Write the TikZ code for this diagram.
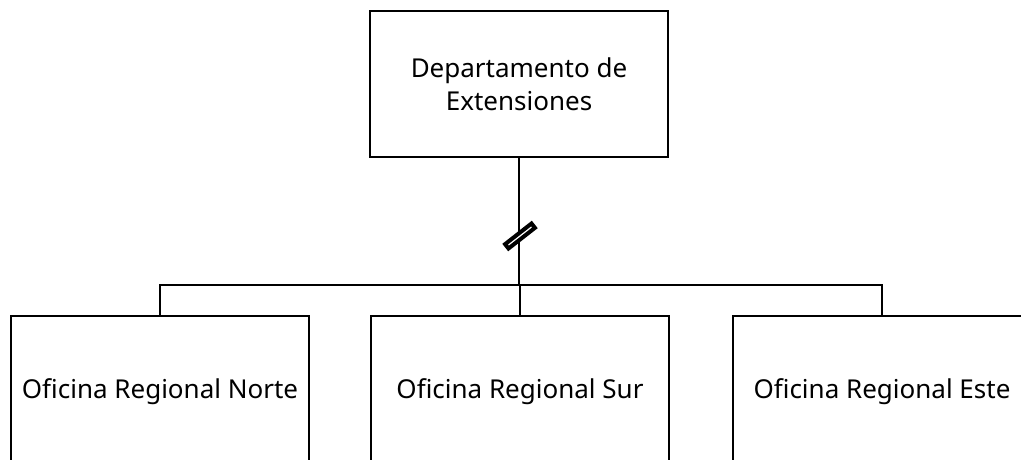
\documentclass[tikz,border=0pt]{standalone}
\usepackage{fontspec}
\setmainfont{Noto Sans}
\begin{document}
\begin{tikzpicture}[x=1pt,y=-1pt,
  box/.style={draw=black, line width=2pt, fill=white, inner sep=0pt, align=center,
    font=\fontsize{26}{33}\selectfont},
  topbox/.style={box, minimum width=298pt, minimum height=146pt},
  subbox/.style={box, minimum width=298pt, minimum height=152pt},
  conn/.style={draw=black, line width=2pt},
  breakmark/.style={draw=black, fill=white, line width=4pt, rotate=38,
    minimum width=33.5pt, minimum height=5.5pt, inner sep=0pt}
]
\useasboundingbox (0,0) rectangle (1021,459);
\clip (0,0) rectangle (1021,459);
\fill[white] (0,0) rectangle (1021,459);
\node[topbox] (top) at (519,84) {Departamento de\\Extensiones};
\node[subbox] (n1) at (160,392) {Oficina Regional Norte};
\node[subbox] (n2) at (520,392) {Oficina Regional Sur};
\node[subbox] (n3) at (882,392) {Oficina Regional Este};
\coordinate (bus) at (519,285);
\draw[conn] (top.south) -- (bus);
\draw[conn] (n1.north) |- (bus) -| (n3.north);
\draw[conn] (bus -| n2.north) -- (n2.north);
\node[breakmark] (mark) at (520,236) {};
\end{tikzpicture}
\end{document}
